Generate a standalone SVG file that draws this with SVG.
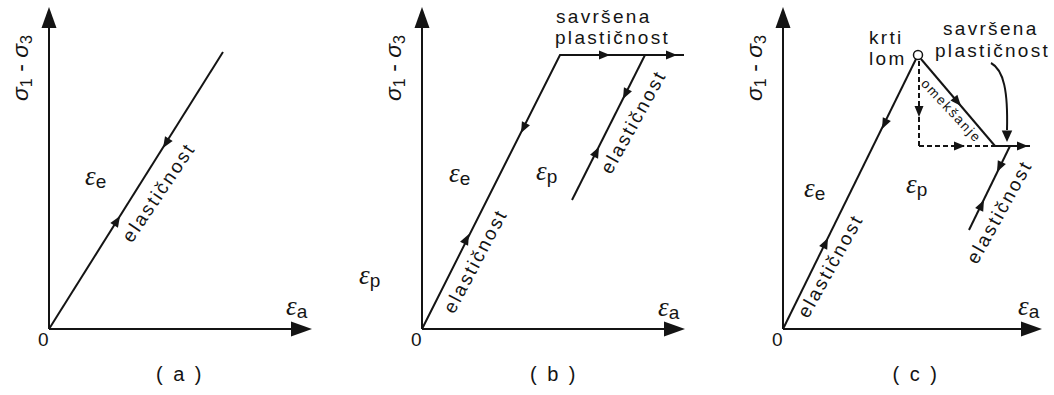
<svg xmlns="http://www.w3.org/2000/svg" xmlns:xlink="http://www.w3.org/1999/xlink" width="1054" height="395" viewBox="0 0 1054 395">
<style>
text{font-family:"Liberation Sans",Arial,sans-serif;fill:#141414}
.lbl{font-size:19px;letter-spacing:2.3px}
.cap{font-size:20px;letter-spacing:2.5px}
.zero{font-size:19px}
.eps{font-size:27px;font-family:"Liberation Serif","Times New Roman",serif;font-style:italic}
.sub{font-size:19px;font-family:"Liberation Sans",Arial,sans-serif;font-style:normal}
.sig{font-size:23px}
.sig .s{font-style:italic}
.sig .d{font-size:16px}
.small{font-size:13.5px;letter-spacing:1.8px}
.ln{stroke:#141414;stroke-width:2;fill:none}
.dash{stroke:#141414;stroke-width:2;fill:none;stroke-dasharray:5 3}
.ah{fill:#141414}
</style>
<defs>
<polygon id="axh" points="0,0 -21,-7.5 -21,7.5"/>
<polygon id="sah" points="0,0 -11,-4.5 -11,4.5"/>
</defs>
<rect width="1054" height="395" fill="#fff"/>

<g id="panel-a">
  <g id="a-axes">
    <line class="ln" x1="49" y1="329" x2="49" y2="20"/>
    <line class="ln" x1="49" y1="329" x2="300" y2="329"/>
    <use href="#axh" class="ah" transform="translate(49,7) rotate(-90)"/>
    <use href="#axh" class="ah" transform="translate(312,329)"/>
  </g>
  <g id="a-connectors">
    <line class="ln" x1="49" y1="329" x2="223" y2="52"/>
    <use href="#sah" class="ah" transform="translate(120,216) rotate(-57.9)"/>
    <use href="#sah" class="ah" transform="translate(163,148) rotate(122.1)"/>
  </g>
  <g id="a-labels">
    <text class="sig" transform="translate(28,68) rotate(-90)" text-anchor="middle"><tspan class="s">σ</tspan><tspan class="d" dy="4">1</tspan><tspan dy="-4"> - </tspan><tspan class="s">σ</tspan><tspan class="d" dy="4">3</tspan></text>
    <text class="eps" x="85" y="185">ε<tspan class="sub" dy="3">e</tspan></text>
    <text class="eps" x="286" y="315">ε<tspan class="sub" dy="3">a</tspan></text>
    <text class="lbl" text-anchor="middle" transform="translate(164,196) rotate(-56)">elastičnost</text>
    <text class="zero" x="38" y="346">0</text>
    <text class="cap" x="180" y="381" text-anchor="middle">( a )</text>
  </g>
</g>

<g id="panel-b">
  <g id="b-axes">
    <line class="ln" x1="422" y1="329" x2="422" y2="20"/>
    <line class="ln" x1="422" y1="329" x2="673" y2="329"/>
    <use href="#axh" class="ah" transform="translate(422,7) rotate(-90)"/>
    <use href="#axh" class="ah" transform="translate(685,329)"/>
  </g>
  <g id="b-connectors">
    <polyline class="ln" points="422,329 560,55 684,55"/>
    <line class="ln" x1="645" y1="55" x2="572" y2="200"/>
    <use href="#sah" class="ah" transform="translate(469,234) rotate(-63.3)"/>
    <use href="#sah" class="ah" transform="translate(521,133) rotate(116.7)"/>
    <use href="#sah" class="ah" transform="translate(610,55)"/>
    <use href="#sah" class="ah" transform="translate(677,55)"/>
    <use href="#sah" class="ah" transform="translate(623,99) rotate(116.7)"/>
    <use href="#sah" class="ah" transform="translate(599,147) rotate(-63.3)"/>
  </g>
  <g id="b-labels">
    <text class="sig" transform="translate(401,68) rotate(-90)" text-anchor="middle"><tspan class="s">σ</tspan><tspan class="d" dy="4">1</tspan><tspan dy="-4"> - </tspan><tspan class="s">σ</tspan><tspan class="d" dy="4">3</tspan></text>
    <text class="lbl" x="556" y="23">savršena</text>
    <text class="lbl" x="555" y="44">plastičnost</text>
    <text class="eps" x="449" y="182">ε<tspan class="sub" dy="3">e</tspan></text>
    <text class="eps" x="536" y="180">ε<tspan class="sub" dy="3">p</tspan></text>
    <text class="eps" x="359" y="284">ε<tspan class="sub" dy="3">p</tspan></text>
    <text class="eps" x="658" y="316">ε<tspan class="sub" dy="3">a</tspan></text>
    <text class="lbl" text-anchor="middle" transform="translate(481,264) rotate(-62)">elastičnost</text>
    <text class="lbl" text-anchor="middle" transform="translate(639,125) rotate(-61)">elastičnost</text>
    <text class="zero" x="411" y="346">0</text>
    <text class="cap" x="554" y="381" text-anchor="middle">( b )</text>
  </g>
</g>

<g id="panel-c">
  <g id="c-axes">
    <line class="ln" x1="783" y1="329" x2="783" y2="20"/>
    <line class="ln" x1="783" y1="329" x2="1030" y2="329"/>
    <use href="#axh" class="ah" transform="translate(783,7) rotate(-90)"/>
    <use href="#axh" class="ah" transform="translate(1042,329)"/>
  </g>
  <g id="c-connectors">
    <line class="ln" x1="783" y1="329" x2="916" y2="59"/>
    <line class="ln" x1="921" y1="59" x2="995" y2="146"/>
    <line class="ln" x1="995" y1="146" x2="1030" y2="146"/>
    <line class="dash" x1="919" y1="61" x2="919" y2="146"/>
    <line class="dash" x1="919" y1="146" x2="995" y2="146"/>
    <line class="ln" x1="1010" y1="146" x2="969" y2="230"/>
    <path class="ln" d="M991,63 C1004,70 1008,92 1007,130"/>
    <use href="#axh" class="ah" transform="translate(1007,142) rotate(90) scale(0.55,0.7)"/>
    <use href="#sah" class="ah" transform="translate(828,238) rotate(-63.8)"/>
    <use href="#sah" class="ah" transform="translate(882,129) rotate(116.2)"/>
    <use href="#sah" class="ah" transform="translate(961,106) rotate(49.8)"/>
    <use href="#sah" class="ah" transform="translate(919,117) rotate(90)"/>
    <use href="#sah" class="ah" transform="translate(965,146)"/>
    <use href="#sah" class="ah" transform="translate(1028,146)"/>
    <use href="#sah" class="ah" transform="translate(997,172) rotate(116.2)"/>
    <use href="#sah" class="ah" transform="translate(984,200) rotate(-63.8)"/>
    <circle cx="918" cy="55" r="4.5" fill="#fff" stroke="#141414" stroke-width="1.5"/>
  </g>
  <g id="c-labels">
    <text class="sig" transform="translate(762,68) rotate(-90)" text-anchor="middle"><tspan class="s">σ</tspan><tspan class="d" dy="4">1</tspan><tspan dy="-4"> - </tspan><tspan class="s">σ</tspan><tspan class="d" dy="4">3</tspan></text>
    <text class="lbl" x="869" y="44">krti</text>
    <text class="lbl" x="869" y="65">lom</text>
    <text class="lbl" x="943" y="35">savršena</text>
    <text class="lbl" x="935" y="57">plastičnost</text>
    <text class="small" text-anchor="middle" transform="translate(948,114) rotate(47)">omekšanje</text>
    <text class="eps" x="804" y="197">ε<tspan class="sub" dy="3">e</tspan></text>
    <text class="eps" x="906" y="193">ε<tspan class="sub" dy="3">p</tspan></text>
    <text class="eps" x="1018" y="315">ε<tspan class="sub" dy="3">a</tspan></text>
    <text class="lbl" text-anchor="middle" transform="translate(836,269) rotate(-61)">elastičnost</text>
    <text class="lbl" text-anchor="middle" transform="translate(1005,215) rotate(-61)">elastičnost</text>
    <text class="zero" x="772" y="346">0</text>
    <text class="cap" x="916" y="381" text-anchor="middle">( c )</text>
  </g>
</g>
</svg>
